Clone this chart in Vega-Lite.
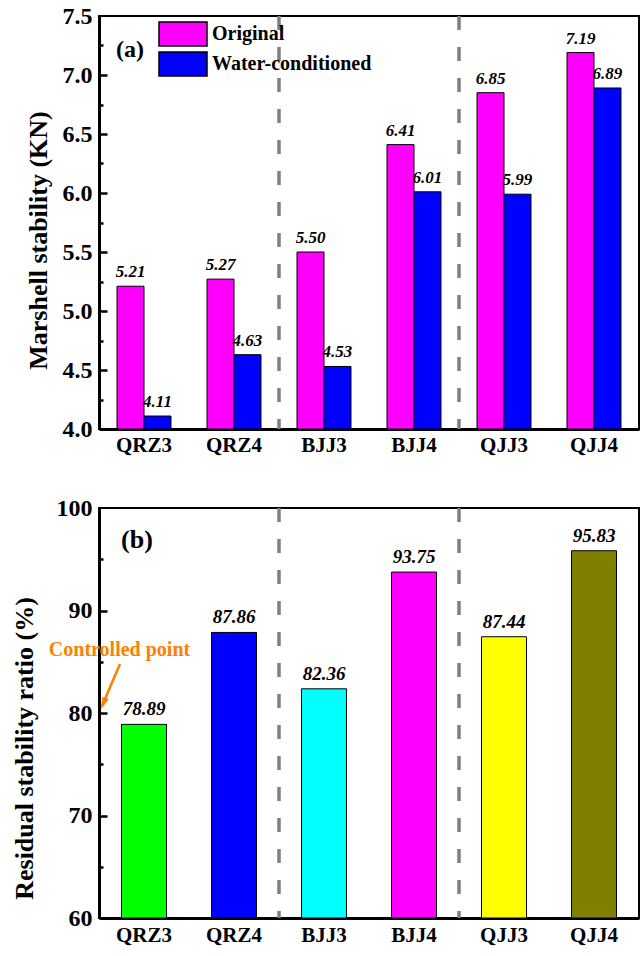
{
  "$schema": "https://vega.github.io/schema/vega-lite/v6.json",
  "padding": {"left": 10, "top": 3, "right": 2, "bottom": 5},
  "background": "white",
  "bounds": "flush",
  "spacing": 79,
  "resolve": {"scale": {"color": "independent"}},
  "config": {
    "view": {"stroke": "black", "strokeWidth": 2},
    "font": "Liberation Serif",
    "axis": {
      "labelFont": "Liberation Serif",
      "labelFontWeight": "bold",
      "labelFontSize": 24,
      "labelColor": "black",
      "titleFont": "Liberation Serif",
      "titleFontWeight": "bold",
      "titleFontSize": 26,
      "titleColor": "black",
      "domainColor": "black",
      "domainWidth": 3,
      "tickColor": "black",
      "tickWidth": 2.5,
      "grid": false
    }
  },
  "vconcat": [
    {
      "width": 540,
      "height": 413,
      "layer": [
        {
          "data": {
            "values": [
              {"sample": "QRZ3", "condition": "Original", "value": 5.21},
              {"sample": "QRZ3", "condition": "Water-conditioned", "value": 4.11},
              {"sample": "QRZ4", "condition": "Original", "value": 5.27},
              {"sample": "QRZ4", "condition": "Water-conditioned", "value": 4.63},
              {"sample": "BJJ3", "condition": "Original", "value": 5.50},
              {"sample": "BJJ3", "condition": "Water-conditioned", "value": 4.53},
              {"sample": "BJJ4", "condition": "Original", "value": 6.41},
              {"sample": "BJJ4", "condition": "Water-conditioned", "value": 6.01},
              {"sample": "QJJ3", "condition": "Original", "value": 6.85},
              {"sample": "QJJ3", "condition": "Water-conditioned", "value": 5.99},
              {"sample": "QJJ4", "condition": "Original", "value": 7.19},
              {"sample": "QJJ4", "condition": "Water-conditioned", "value": 6.89}
            ]
          },
          "encoding": {
            "x": {
              "field": "sample", "type": "nominal",
              "sort": ["QRZ3", "QRZ4", "BJJ3", "BJJ4", "QJJ3", "QJJ4"],
              "scale": {"paddingInner": 0, "paddingOuter": 0},
              "axis": {"title": null, "labelAngle": 0, "labelFontSize": 21, "labelPadding": 5, "ticks": false, "tickSize": 0}
            },
            "xOffset": {
              "field": "condition", "type": "nominal",
              "sort": ["Original", "Water-conditioned"],
              "scale": {"paddingInner": 0, "paddingOuter": 0.667}
            },
            "y": {
              "field": "value", "type": "quantitative",
              "scale": {"domain": [4, 7.5], "nice": false, "zero": false},
              "axis": {
                "orient": "left",
                "title": "Marshell stability (KN)",
                "values": [4, 4.5, 5, 5.5, 6, 6.5, 7, 7.5],
                "format": ".1f",
                "ticks": false,
                "tickSize": 0,
                "labelPadding": 7,
                "titleX": -48,
                "titleY": 224,
                "titleBaseline": "bottom"
              }
            }
          },
          "layer": [
            {
              "mark": {"type": "bar", "stroke": "black", "strokeWidth": 1},
              "encoding": {
                "y2": {"datum": 4},
                "color": {
                  "field": "condition", "type": "nominal",
                  "scale": {"domain": ["Original", "Water-conditioned"], "range": ["#FF00FF", "#0000FF"]},
                  "legend": {
                    "orient": "none",
                    "legendX": 71,
                    "legendY": 5,
                    "title": null,
                    "padding": 0,
                    "symbolType": "M-2,-1H2V1H-2Z",
                    "symbolSize": 576,
                    "symbolStrokeColor": "black",
                    "symbolStrokeWidth": 1.5,
                    "symbolOpacity": 1,
                    "labelFont": "Liberation Serif",
                    "labelFontSize": 20,
                    "labelFontWeight": "bold",
                    "labelColor": "black",
                    "labelOffset": 16,
                    "rowPadding": 0
                  }
                }
              }
            },
            {
              "mark": {"type": "text", "fontStyle": "italic", "fontWeight": "bold", "fontSize": 17, "baseline": "alphabetic", "dy": -9, "color": "black"},
              "encoding": {"text": {"field": "value", "type": "quantitative", "format": ".2f"}}
            }
          ]
        },
        {
          "data": {"values": [{"pos": 2}, {"pos": 4}]},
          "mark": {"type": "rule", "color": "#808080", "strokeWidth": 3.5, "strokeDash": [14, 17]},
          "encoding": {
            "x": {"field": "pos", "type": "quantitative", "scale": {"domain": [0, 6], "nice": false, "zero": false}, "axis": null},
            "y": {
              "datum": 7.5, "type": "quantitative",
              "scale": {"domain": [4, 7.5], "nice": false, "zero": false},
              "axis": {"orient": "left", "title": null, "values": [4.25, 4.75, 5.25, 5.75, 6.25, 6.75, 7.25], "labels": false, "domain": false, "ticks": true, "tickSize": 4, "offset": -4}
            },
            "y2": {"datum": 4}
          }
        },
        {
          "data": {"values": [{"px": 0.344, "py": 7.212, "label": "(a)"}]},
          "mark": {"type": "text", "fontWeight": "bold", "fontSize": 24, "baseline": "middle", "color": "black"},
          "encoding": {
            "x": {"field": "px", "type": "quantitative", "scale": {"domain": [0, 6], "nice": false, "zero": false}, "axis": null},
            "y": {
              "field": "py", "type": "quantitative",
              "scale": {"domain": [4, 7.5], "nice": false, "zero": false},
              "axis": {"orient": "left", "title": null, "values": [4.5, 5, 5.5, 6, 6.5, 7], "labels": false, "domain": false, "ticks": true, "tickSize": 8, "offset": -8}
            },
            "text": {"field": "label"}
          }
        }
      ],
      "resolve": {"scale": {"x": "independent"}, "axis": {"y": "independent"}}
    },
    {
      "width": 540,
      "height": 410,
      "layer": [
        {
          "data": {
            "values": [
              {"sample": "QRZ3", "ratio": 78.89},
              {"sample": "QRZ4", "ratio": 87.86},
              {"sample": "BJJ3", "ratio": 82.36},
              {"sample": "BJJ4", "ratio": 93.75},
              {"sample": "QJJ3", "ratio": 87.44},
              {"sample": "QJJ4", "ratio": 95.83}
            ]
          },
          "encoding": {
            "x": {
              "field": "sample", "type": "nominal",
              "sort": ["QRZ3", "QRZ4", "BJJ3", "BJJ4", "QJJ3", "QJJ4"],
              "scale": {"paddingInner": 0, "paddingOuter": 0},
              "axis": {"title": null, "labelAngle": 0, "labelFontSize": 21, "labelPadding": 6, "ticks": false, "tickSize": 0}
            },
            "y": {
              "field": "ratio", "type": "quantitative",
              "scale": {"domain": [60, 100], "nice": false, "zero": false},
              "axis": {
                "orient": "left",
                "title": "Residual stability ratio (%)",
                "values": [60, 70, 80, 90, 100],
                "ticks": false,
                "tickSize": 0,
                "labelPadding": 7,
                "titleX": -62,
                "titleY": 240,
                "titleBaseline": "bottom"
              }
            }
          },
          "layer": [
            {
              "mark": {"type": "bar", "stroke": "black", "strokeWidth": 1, "width": {"band": 0.5}},
              "encoding": {
                "y2": {"datum": 60},
                "color": {
                  "field": "sample", "type": "nominal",
                  "scale": {
                    "domain": ["QRZ3", "QRZ4", "BJJ3", "BJJ4", "QJJ3", "QJJ4"],
                    "range": ["#00FF00", "#0000FF", "#00FFFF", "#FF00FF", "#FFFF00", "#808000"]
                  },
                  "legend": null
                }
              }
            },
            {
              "mark": {"type": "text", "fontStyle": "italic", "fontWeight": "bold", "fontSize": 19, "baseline": "alphabetic", "dy": -9, "color": "black"},
              "encoding": {"text": {"field": "ratio", "type": "quantitative", "format": ".2f"}}
            }
          ]
        },
        {
          "data": {"values": [{"pos": 2}, {"pos": 4}]},
          "mark": {"type": "rule", "color": "#808080", "strokeWidth": 3.5, "strokeDash": [14, 17]},
          "encoding": {
            "x": {"field": "pos", "type": "quantitative", "scale": {"domain": [0, 6], "nice": false, "zero": false}, "axis": null}
          }
        },
        {
          "data": {"values": [{"px": 0.422, "py": 96.88, "label": "(b)"}]},
          "mark": {"type": "text", "fontWeight": "bold", "fontSize": 26, "baseline": "middle", "color": "black"},
          "encoding": {
            "x": {"field": "px", "type": "quantitative", "scale": {"domain": [0, 6], "nice": false, "zero": false}, "axis": null},
            "y": {
              "field": "py", "type": "quantitative",
              "scale": {"domain": [60, 100], "nice": false, "zero": false},
              "axis": {"orient": "left", "title": null, "values": [70, 80, 90], "labels": false, "domain": false, "ticks": true, "tickSize": 8, "offset": -8}
            },
            "text": {"field": "label"}
          }
        },
        {
          "data": {"values": [{"px": 0.228, "py": 86.15, "label": "Controlled point"}]},
          "mark": {"type": "text", "fontWeight": "bold", "fontSize": 20, "baseline": "middle", "color": "#FF7F00"},
          "encoding": {
            "x": {"field": "px", "type": "quantitative", "scale": {"domain": [0, 6], "nice": false, "zero": false}, "axis": null},
            "y": {
              "field": "py", "type": "quantitative",
              "scale": {"domain": [60, 100], "nice": false, "zero": false},
              "axis": {"orient": "left", "title": null, "values": [65, 75, 85, 95], "labels": false, "domain": false, "ticks": true, "tickSize": 4, "offset": -4}
            },
            "text": {"field": "label"}
          }
        },
        {
          "data": {"values": [{"ax": 0.233, "ay": 84.78, "bx": 0.03, "by": 80.6}]},
          "mark": {"type": "rule", "color": "#FF7F00", "strokeWidth": 2.5},
          "encoding": {
            "x": {"field": "ax", "type": "quantitative", "scale": {"domain": [0, 6], "nice": false, "zero": false}, "axis": null},
            "y": {"field": "ay", "type": "quantitative", "scale": {"domain": [60, 100], "nice": false, "zero": false}, "axis": null},
            "x2": {"field": "bx"},
            "y2": {"field": "by"}
          }
        },
        {
          "data": {"values": [{"tx": 0.022, "ty": 80.39}]},
          "mark": {"type": "point", "shape": "M0,0L-0.45,-1.6L0.45,-1.6Z", "filled": true, "size": 225, "angle": 23, "color": "#FF7F00", "opacity": 1},
          "encoding": {
            "x": {"field": "tx", "type": "quantitative", "scale": {"domain": [0, 6], "nice": false, "zero": false}, "axis": null},
            "y": {"field": "ty", "type": "quantitative", "scale": {"domain": [60, 100], "nice": false, "zero": false}, "axis": null}
          }
        }
      ],
      "resolve": {"scale": {"x": "independent"}, "axis": {"y": "independent"}}
    }
  ]
}
